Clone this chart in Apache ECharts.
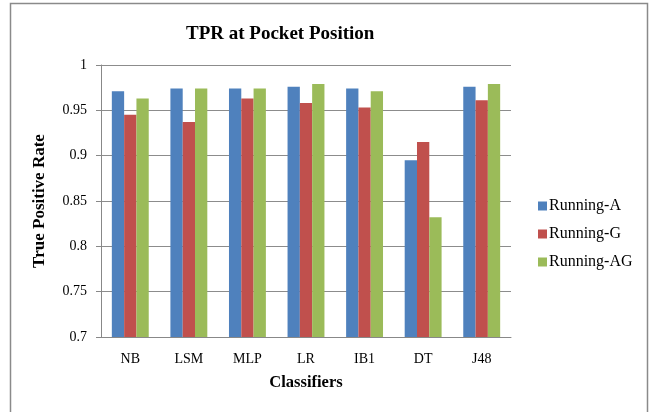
<!DOCTYPE html>
<html><head><meta charset="utf-8">
<script src="https://cdn.jsdelivr.net/npm/echarts@6/dist/echarts.min.js"></script>
<style>html,body{margin:0;padding:0;background:#fff}#c{width:652px;height:412px}</style>
</head><body><div id="c"></div>
<script>
const categories = ['NB','LSM','MLP','LR','IB1','DT','J48'];
const runningA  = [0.971, 0.974, 0.974, 0.976, 0.974, 0.895, 0.976];
const runningG  = [0.945, 0.937, 0.963, 0.958, 0.953, 0.915, 0.961];
const runningAG = [0.963, 0.974, 0.974, 0.979, 0.971, 0.832, 0.979];
const seriesNames = ['Running-A','Running-G','Running-AG'];
const colors = ['#4F81BD','#C0504D','#9BBB59'];
const font = 'Liberation Serif, Times New Roman, serif';

const chart = echarts.init(document.getElementById('c'));
chart.setOption({
  animation: false,
  graphic: [{type:'rect', shape:{x:10.5,y:3.5,width:637,height:420}, style:{fill:'none',stroke:'#8a8a8a',lineWidth:1.5}, silent:true}],
  title: {text:'TPR at Pocket Position', left:181, top:20, textStyle:{fontFamily:font,fontSize:19,fontWeight:'bold',color:'#000'}},
  legend: {orient:'vertical', left:533, top:193, itemWidth:9, itemHeight:9, itemGap:12, icon:'rect',
    textStyle:{fontFamily:font,fontSize:16,color:'#000',padding:[0,0,0,-3]}, data:seriesNames},
  grid: {left:101, right:141, top:65, bottom:75},
  xAxis: {type:'category', data:categories,
    axisLine:{lineStyle:{color:'#888'}}, axisTick:{length:5,lineStyle:{color:'#888'}},
    axisLabel:{fontFamily:font,fontSize:14,color:'#000',margin:15},
    name:'Classifiers', nameLocation:'middle', nameGap:37,
    nameTextStyle:{fontFamily:font,fontSize:16.5,fontWeight:'bold',color:'#000'}},
  yAxis: {type:'value', min:0.7, max:1, interval:0.05,
    axisLine:{show:true,lineStyle:{color:'#888'}}, axisTick:{show:true,length:5,lineStyle:{color:'#888'}},
    splitLine:{lineStyle:{color:'#8c8c8c'}},
    axisLabel:{fontFamily:font,fontSize:14,color:'#000',margin:14},
    name:'True Positive Rate', nameLocation:'middle', nameGap:53, nameRotate:90,
    nameTextStyle:{fontFamily:font,fontSize:17,fontWeight:'bold',color:'#000'}},
  series: [runningA, runningG, runningAG].map((d,i)=>({
    name:seriesNames[i], type:'bar', data:d, barGap:'0%', barCategoryGap:'37%',
    itemStyle:{color:colors[i]}
  }))
});
</script></body></html>
